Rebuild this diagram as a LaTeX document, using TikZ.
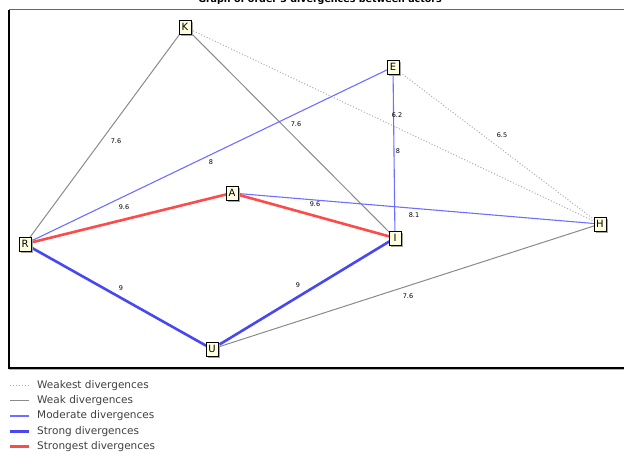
\documentclass[tikz,border=0pt]{standalone}
\usepackage{fontspec}
\setmainfont{DejaVu Sans}
\usetikzlibrary{shadows}
\definecolor{ActorFill}{HTML}{FFFFE0}
\definecolor{WeakGray}{HTML}{8A8A8A}
\definecolor{FaintGray}{HTML}{ABABAB}
\definecolor{MidBlue}{HTML}{6E6EFF}
\definecolor{StrongBlue}{HTML}{4848F2}
\definecolor{HotRed}{HTML}{FF4A4A}
\pgfdeclarelayer{background}
\pgfsetlayers{background,main}
\tikzset{
  every node/.style={font=\fontsize{10.5}{12}\selectfont, text=black},
  actor/.style={draw=black, line width=0.7pt, fill=ActorFill, inner sep=1.2pt,
    minimum width=12pt, minimum height=14pt,
    drop shadow={shadow xshift=2pt, shadow yshift=-2pt, fill=gray!70, opacity=1},
    font=\fontsize{10}{11}\selectfont},
  elabel/.style={font=\fontsize{6.5}{7}\selectfont, inner sep=0pt},
  weakest/.style={draw=FaintGray, line width=1pt, dotted},
  weak/.style={draw=WeakGray, line width=1pt},
  moderate/.style={draw=MidBlue, line width=1.1pt},
  strong/.style={draw=StrongBlue, line width=2.6pt},
  strongest/.style={draw=HotRed, line width=2.6pt},
}

\begin{document}
\begin{tikzpicture}[x=1pt,y=-1pt]
  \useasboundingbox (0,0) rectangle (624,453);
  % Title, cut at the top edge
  \node[font=\bfseries\fontsize{9.5}{10}\selectfont, anchor=base] (title) at (320,2.5) {Graph of order 3 divergences between actors};
  % Plot frame
  \draw[gray!80!black, line width=1.6pt] (9,9.5) -- (624,9.5);
  \draw[black, line width=1.2pt] (9,9.5) -- (9,368) -- (624,368);
  \draw[gray!60, line width=0.8pt] (9,369.5) -- (624,369.5);
  % Actors
  \node[actor] (K) at (185,27) {K};
  \node[actor] (E) at (393,67) {E};
  \node[actor] (A) at (232,193) {A};
  \node[actor] (R) at (25,244) {R};
  \node[actor] (I) at (395,238) {I};
  \node[actor] (H) at (600,224) {H};
  \node[actor] (U) at (212,349) {U};
  % Divergences
  \begin{pgfonlayer}{background}
    \draw[weakest] (K.center) -- (H.center);
    \draw[weakest] (E.center) -- (H.center);
    \draw[weak] (K.center) -- (R.center);
    \draw[weak] (K.center) -- (I.center);
    \draw[weak] (U.center) -- (H.center);
    \draw[moderate] (R.center) -- (E.center);
    \draw[moderate] (E.center) -- (I.center);
    \draw[moderate] (A.center) -- (H.center);
    \draw[strong] (R.center) -- (U.center);
    \draw[strong] (U.center) -- (I.center);
    \draw[strongest] (R.center) -- (A.center);
    \draw[strongest] (A.center) -- (I.center);
  \end{pgfonlayer}
  % Values
  \node[elabel] (vKR) at (116,141) {7.6};
  \node[elabel] (vKI) at (296,124) {7.6};
  \node[elabel] (vKH) at (397,115) {6.2};
  \node[elabel] (vEH) at (502,135) {6.5};
  \node[elabel] (vRE) at (211,162) {8};
  \node[elabel] (vEI) at (398,151) {8};
  \node[elabel] (vRA) at (124,207) {9.6};
  \node[elabel] (vAI) at (315,204) {9.6};
  \node[elabel] (vAH) at (414,215) {8.1};
  \node[elabel] (vRU) at (121,288) {9};
  \node[elabel] (vUI) at (298,285) {9};
  \node[elabel] (vUH) at (408,296) {7.6};
  % Legend
  \foreach \st/\w/\txt [count=\i] in {weakest/1.2/Weakest divergences, weak/1.4/Weak divergences, moderate/1.6/Moderate divergences, strong/2.6/Strong divergences, strongest/2.6/Strongest divergences}
  {
    \coordinate (ls\i) at (10,370+15.3*\i);
    \coordinate (le\i) at (29,370+15.3*\i);
    \draw[\st, line width=\w pt] (ls\i) -- (le\i);
    \node[anchor=west, inner sep=0pt, text=black!75] (leg\i) at (37,370+15.3*\i) {\txt};
  }
\end{tikzpicture}
\end{document}
